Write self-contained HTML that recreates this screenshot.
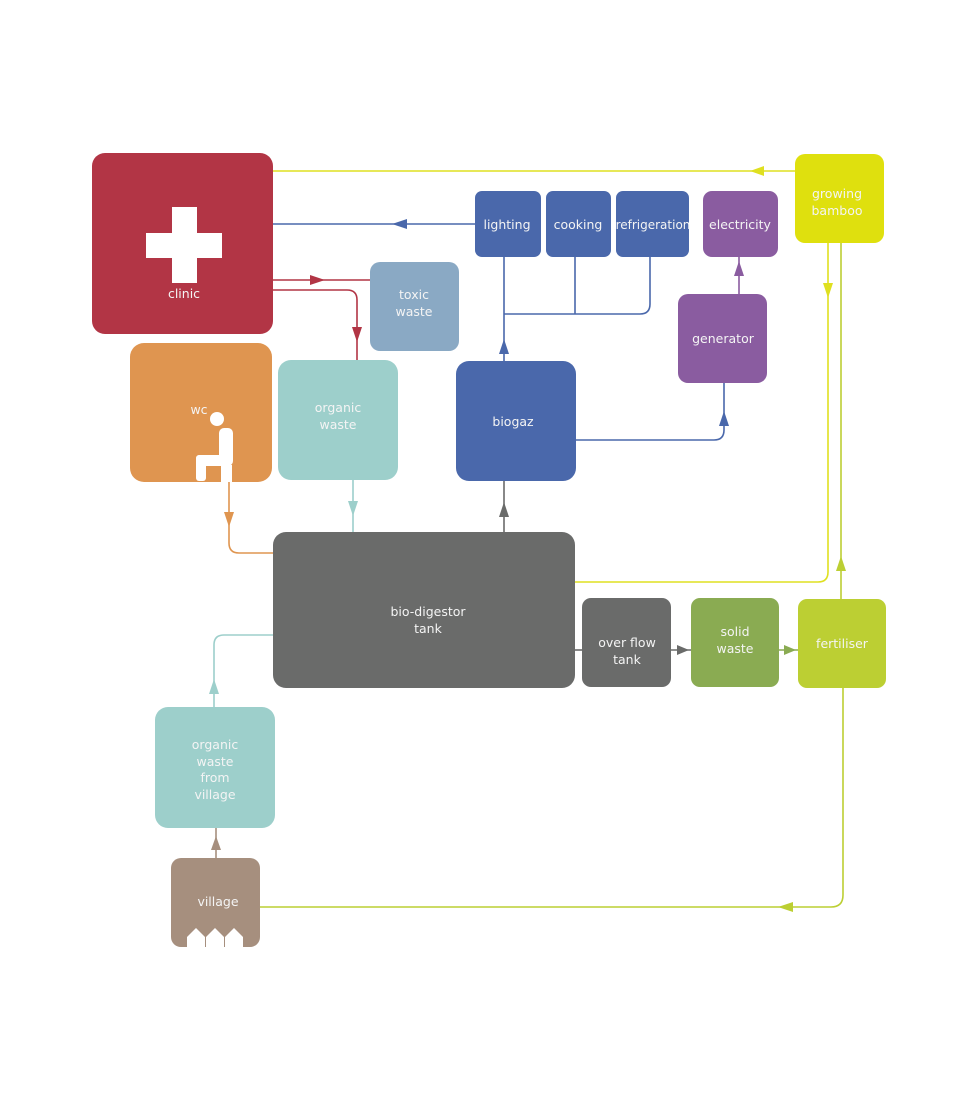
<!DOCTYPE html>
<html><head><meta charset="utf-8"><style>
html,body{margin:0;padding:0;background:#fff;}
svg{display:block;}
text{font-family:"DejaVu Sans","Liberation Sans",sans-serif;font-size:12.5px;fill:#f4f4f4;text-anchor:middle;}
</style></head><body>
<svg width="959" height="1095" viewBox="0 0 959 1095" xmlns="http://www.w3.org/2000/svg">
<g fill="none" stroke-width="1.6">
<!-- yellow top -->
<path d="M273 171 H795" stroke="#dfe020"/>
<!-- blue to clinic -->
<path d="M273 224 H475" stroke="#4a68ab"/>
<!-- red -->
<path d="M273 280 H370" stroke="#b23545"/>
<path d="M273 290 H347 Q357 290 357 300 V360" stroke="#b23545"/>
<!-- biogaz to uses -->
<path d="M504 361 V257" stroke="#4a68ab"/>
<path d="M504 314 H640 Q650 314 650 304 V257" stroke="#4a68ab"/>
<path d="M575 257 V314" stroke="#4a68ab"/>
<path d="M576 440 H714 Q724 440 724 430 V383" stroke="#4a68ab"/>
<path d="M739 294 V257" stroke="#8a5ca0"/>
<path d="M504 532 V481" stroke="#6a6b6a"/>
<!-- wc -->
<path d="M229 482 V543 Q229 553 239 553 H273" stroke="#df9550"/>
<path d="M353 480 V532" stroke="#9dcfcb"/>
<!-- bamboo loops -->
<path d="M828 243 V572 Q828 582 818 582 H575" stroke="#dfe020"/>
<path d="M841 599 V243" stroke="#bccf33"/>
<path d="M843 688 V895 Q843 907 831 907 H260" stroke="#bccf33"/>
<!-- village -->
<path d="M214 707 V645 Q214 635 224 635 H273" stroke="#9dcfcb"/>
<path d="M216 858 V828" stroke="#a68f7e"/>
<path d="M575 650 H582" stroke="#6a6b6a"/>
<path d="M671 650 H691" stroke="#6a6b6a"/>
<path d="M779 650 H798" stroke="#8aab52"/>
</g>
<!-- arrowheads -->
<polygon points="750,171 764,166 764,176" fill="#dfe020"/>
<polygon points="392,224 407,219 407,229" fill="#4a68ab"/>
<polygon points="325,280 310,275 310,285" fill="#b23545"/>
<polygon points="357,342 352,327 362,327" fill="#b23545"/>
<polygon points="504,339 499,354 509,354" fill="#4a68ab"/>
<polygon points="724,411 719,426 729,426" fill="#4a68ab"/>
<polygon points="739,261 734,276 744,276" fill="#8a5ca0"/>
<polygon points="504,502 499,517 509,517" fill="#6a6b6a"/>
<polygon points="229,527 224,512 234,512" fill="#df9550"/>
<polygon points="353,516 348,501 358,501" fill="#9dcfcb"/>
<polygon points="828,298 823,283 833,283" fill="#dfe020"/>
<polygon points="841,556 836,571 846,571" fill="#bccf33"/>
<polygon points="778,907 793,902 793,912" fill="#bccf33"/>
<polygon points="214,679 209,694 219,694" fill="#9dcfcb"/>
<polygon points="216,836 211,850 221,850" fill="#a68f7e"/>
<polygon points="689,650 677,645 677,655" fill="#6a6b6a"/>
<polygon points="796,650 784,645 784,655" fill="#8aab52"/>
<!-- nodes -->
<rect x="92" y="153" width="181" height="181" rx="13" fill="#b23545"/>
<rect x="172" y="207" width="25" height="76" fill="#fff"/>
<rect x="146" y="233" width="76" height="25" fill="#fff"/>
<text x="184" y="298">clinic</text>
<rect x="370" y="262" width="89" height="89" rx="10" fill="#8aa9c4"/>
<text x="414" y="299">toxic</text><text x="414" y="316">waste</text>
<rect x="130" y="343" width="142" height="139" rx="14" fill="#df9550"/>
<text x="199" y="414">wc</text>
<g fill="#fff">
<circle cx="217" cy="419" r="7"/>
<rect x="219" y="428" width="14" height="38" rx="5"/>
<rect x="196" y="455" width="36" height="11" rx="4"/>
<rect x="196" y="455" width="10" height="26" rx="3"/>
<rect x="221" y="465" width="11" height="17"/>
</g>
<rect x="278" y="360" width="120" height="120" rx="13" fill="#9dcfcb"/>
<text x="338" y="412">organic</text><text x="338" y="429">waste</text>
<rect x="475" y="191" width="66" height="66" rx="7" fill="#4a68ab"/>
<text x="507" y="229">lighting</text>
<rect x="546" y="191" width="65" height="66" rx="7" fill="#4a68ab"/>
<text x="578" y="229">cooking</text>
<rect x="616" y="191" width="73" height="66" rx="7" fill="#4a68ab"/>
<text x="653" y="229" style="font-size:12px">refrigeration</text>
<rect x="703" y="191" width="75" height="66" rx="9" fill="#8a5ca0"/>
<text x="740" y="229">electricity</text>
<rect x="795" y="154" width="89" height="89" rx="10" fill="#dfe00e"/>
<text x="837" y="198">growing</text><text x="837" y="215">bamboo</text>
<rect x="678" y="294" width="89" height="89" rx="10" fill="#8a5ca0"/>
<text x="723" y="343">generator</text>
<rect x="456" y="361" width="120" height="120" rx="13" fill="#4a68ab"/>
<text x="513" y="426">biogaz</text>
<rect x="273" y="532" width="302" height="156" rx="13" fill="#6a6b6a"/>
<text x="428" y="616">bio-digestor</text><text x="428" y="633">tank</text>
<rect x="582" y="598" width="89" height="89" rx="9" fill="#6a6b6a"/>
<text x="627" y="647">over flow</text><text x="627" y="664">tank</text>
<rect x="691" y="598" width="88" height="89" rx="9" fill="#8aab52"/>
<text x="735" y="636">solid</text><text x="735" y="653">waste</text>
<rect x="798" y="599" width="88" height="89" rx="9" fill="#bccf33"/>
<text x="842" y="648">fertiliser</text>
<rect x="155" y="707" width="120" height="121" rx="13" fill="#9dcfcb"/>
<text x="215" y="749">organic</text><text x="215" y="766">waste</text><text x="215" y="782">from</text><text x="215" y="799">village</text>
<rect x="171" y="858" width="89" height="89" rx="10" fill="#a68f7e"/>
<text x="218" y="906">village</text>
<g fill="#fff">
<polygon points="187,947 187,937 196,928 205,937 205,947"/>
<polygon points="206,947 206,937 215,928 224,937 224,947"/>
<polygon points="225,947 225,937 234,928 243,937 243,947"/>
</g>
</svg>
</body></html>
